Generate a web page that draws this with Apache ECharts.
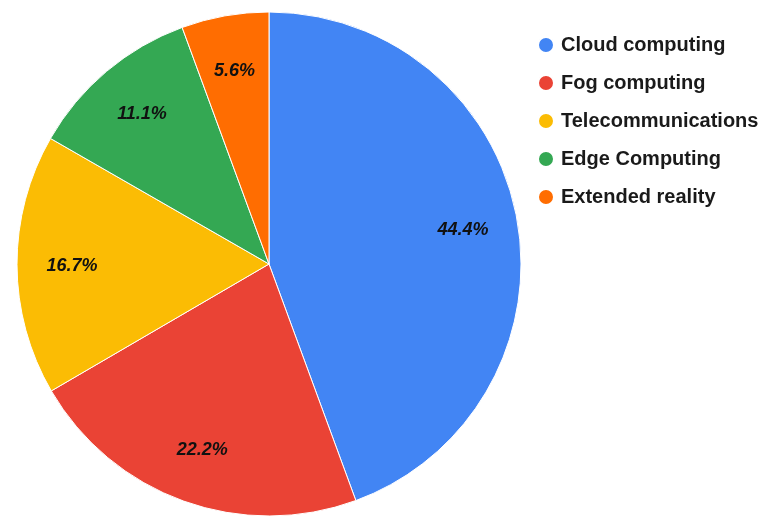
<!DOCTYPE html>
<html>
<head>
<meta charset="utf-8">
<script src="https://cdn.jsdelivr.net/npm/echarts@6/dist/echarts.min.js"></script>
<style>
  html, body { margin: 0; padding: 0; background: #fff; }
  #main { width: 767px; height: 516px; }
</style>
</head>
<body>
<div id="main"></div>
<script>
var categories = ['Cloud computing', 'Fog computing', 'Telecommunications', 'Edge Computing', 'Extended reality'];
var shares = [44.4, 22.2, 16.7, 11.1, 5.6];
var colors = ['#4285F4', '#EA4335', '#FBBC04', '#34A853', '#FF6D01'];

var pieData = [];
for (var i = 0; i < categories.length; i++) {
  pieData.push({ name: categories[i], value: shares[i] });
}

var myChart = echarts.init(document.getElementById('main'));
var R = 252;
var option = {
  color: colors,
  animation: false,
  legend: {
    orient: 'vertical',
    left: 532,
    top: 30,
    icon: 'circle',
    itemWidth: 16,
    itemHeight: 16,
    itemGap: 18,
    data: categories,
    textStyle: {
      fontFamily: 'Liberation Sans, Arial, sans-serif',
      fontWeight: 'bold',
      fontSize: 20,
      lineHeight: 20,
      color: '#1a1a1a',
      padding: [0, 0, 0, 2]
    }
  },
  series: [
    {
      type: 'pie',
      center: [269, 264],
      radius: [0, R],
      startAngle: 90,
      clockwise: true,
      data: pieData,
      itemStyle: { borderColor: '#fff', borderWidth: 1 },
      label: { show: false },
      labelLine: { show: false }
    },
    {
      // transparent overlay just to place the labels further out
      type: 'pie',
      silent: true,
      center: [269, 265],
      radius: [R * 0.54, R],
      startAngle: 90,
      clockwise: true,
      data: pieData,
      legendHoverLink: false,
      itemStyle: { color: 'rgba(0,0,0,0)', borderWidth: 0 },
      label: {
        show: true,
        position: 'inside',
        formatter: '{c}%',
        fontFamily: 'Liberation Sans, Arial, sans-serif',
        fontWeight: 'bold',
        fontStyle: 'italic',
        fontSize: 18,
        color: '#111'
      },
      labelLine: { show: false }
    }
  ]
};
myChart.setOption(option);
</script>
</body>
</html>
